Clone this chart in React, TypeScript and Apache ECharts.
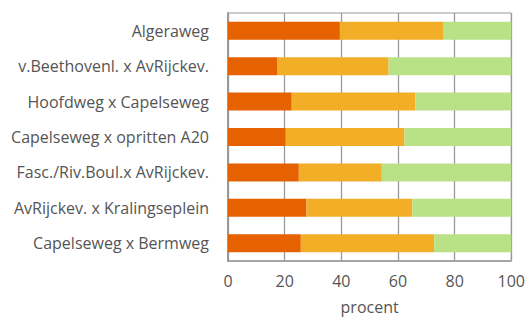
import React, { useEffect, useRef } from "react";
import * as echarts from "echarts";

const categories = [
  "Algeraweg",
  "v.Beethovenl. x AvRijckev.",
  "Hoofdweg x Capelseweg",
  "Capelseweg x opritten A20",
  "Fasc./Riv.Boul.x AvRijckev.",
  "AvRijckev. x Kralingseplein",
  "Capelseweg x Bermweg",
];
const seriesA = [39.5, 17.3, 22.5, 20.4, 25.0, 27.7, 25.7];
const seriesB = [36.4, 39.4, 43.6, 41.9, 29.3, 37.4, 47.1];
const seriesC = [24.1, 43.3, 33.9, 37.7, 45.7, 34.9, 27.2];
const colors = ["#E66100", "#F2AE27", "#B9E287"];

export default function App() {
  const ref = useRef<HTMLDivElement>(null);
  useEffect(() => {
    if (!ref.current) return;
    const chart = echarts.init(ref.current, undefined, { renderer: "svg" });
    const font = "'Open Sans', sans-serif";
    const textColor = "#555";
    chart.setOption({
      animation: false,
      grid: {
        left: 228,
        right: 14,
        top: 13,
        bottom: 56,
        show: true,
        borderColor: "#999",
        borderWidth: 1,
      },
      xAxis: {
        type: "value",
        min: 0,
        max: 100,
        interval: 20,
        name: "procent",
        nameLocation: "middle",
        nameGap: 38,
        nameTextStyle: { fontFamily: font, fontSize: 16, color: textColor },
        axisLabel: { fontFamily: font, fontSize: 16, color: textColor, margin: 12 },
        axisLine: { show: true, lineStyle: { color: "#999", width: 1.5 } },
        axisTick: { show: false },
        splitLine: { show: true, lineStyle: { color: "#999", width: 1.3 } },
      },
      yAxis: {
        type: "category",
        data: categories,
        inverse: true,
        axisLabel: { fontFamily: font, fontSize: 16, color: textColor, margin: 19 },
        axisLine: { show: true, lineStyle: { color: "#999", width: 2 } },
        axisTick: { show: false },
        splitLine: { show: false },
      },
      series: [seriesA, seriesB, seriesC].map((d, i) => ({
        type: "bar",
        stack: "total",
        data: d,
        barWidth: 18,
        itemStyle: { color: colors[i] },
      })),
    });
    return () => chart.dispose();
  }, []);
  return (
    <div
      ref={ref}
      style={{ position: "absolute", left: 0, top: 0, width: 528, height: 320 }}
    />
  );
}
